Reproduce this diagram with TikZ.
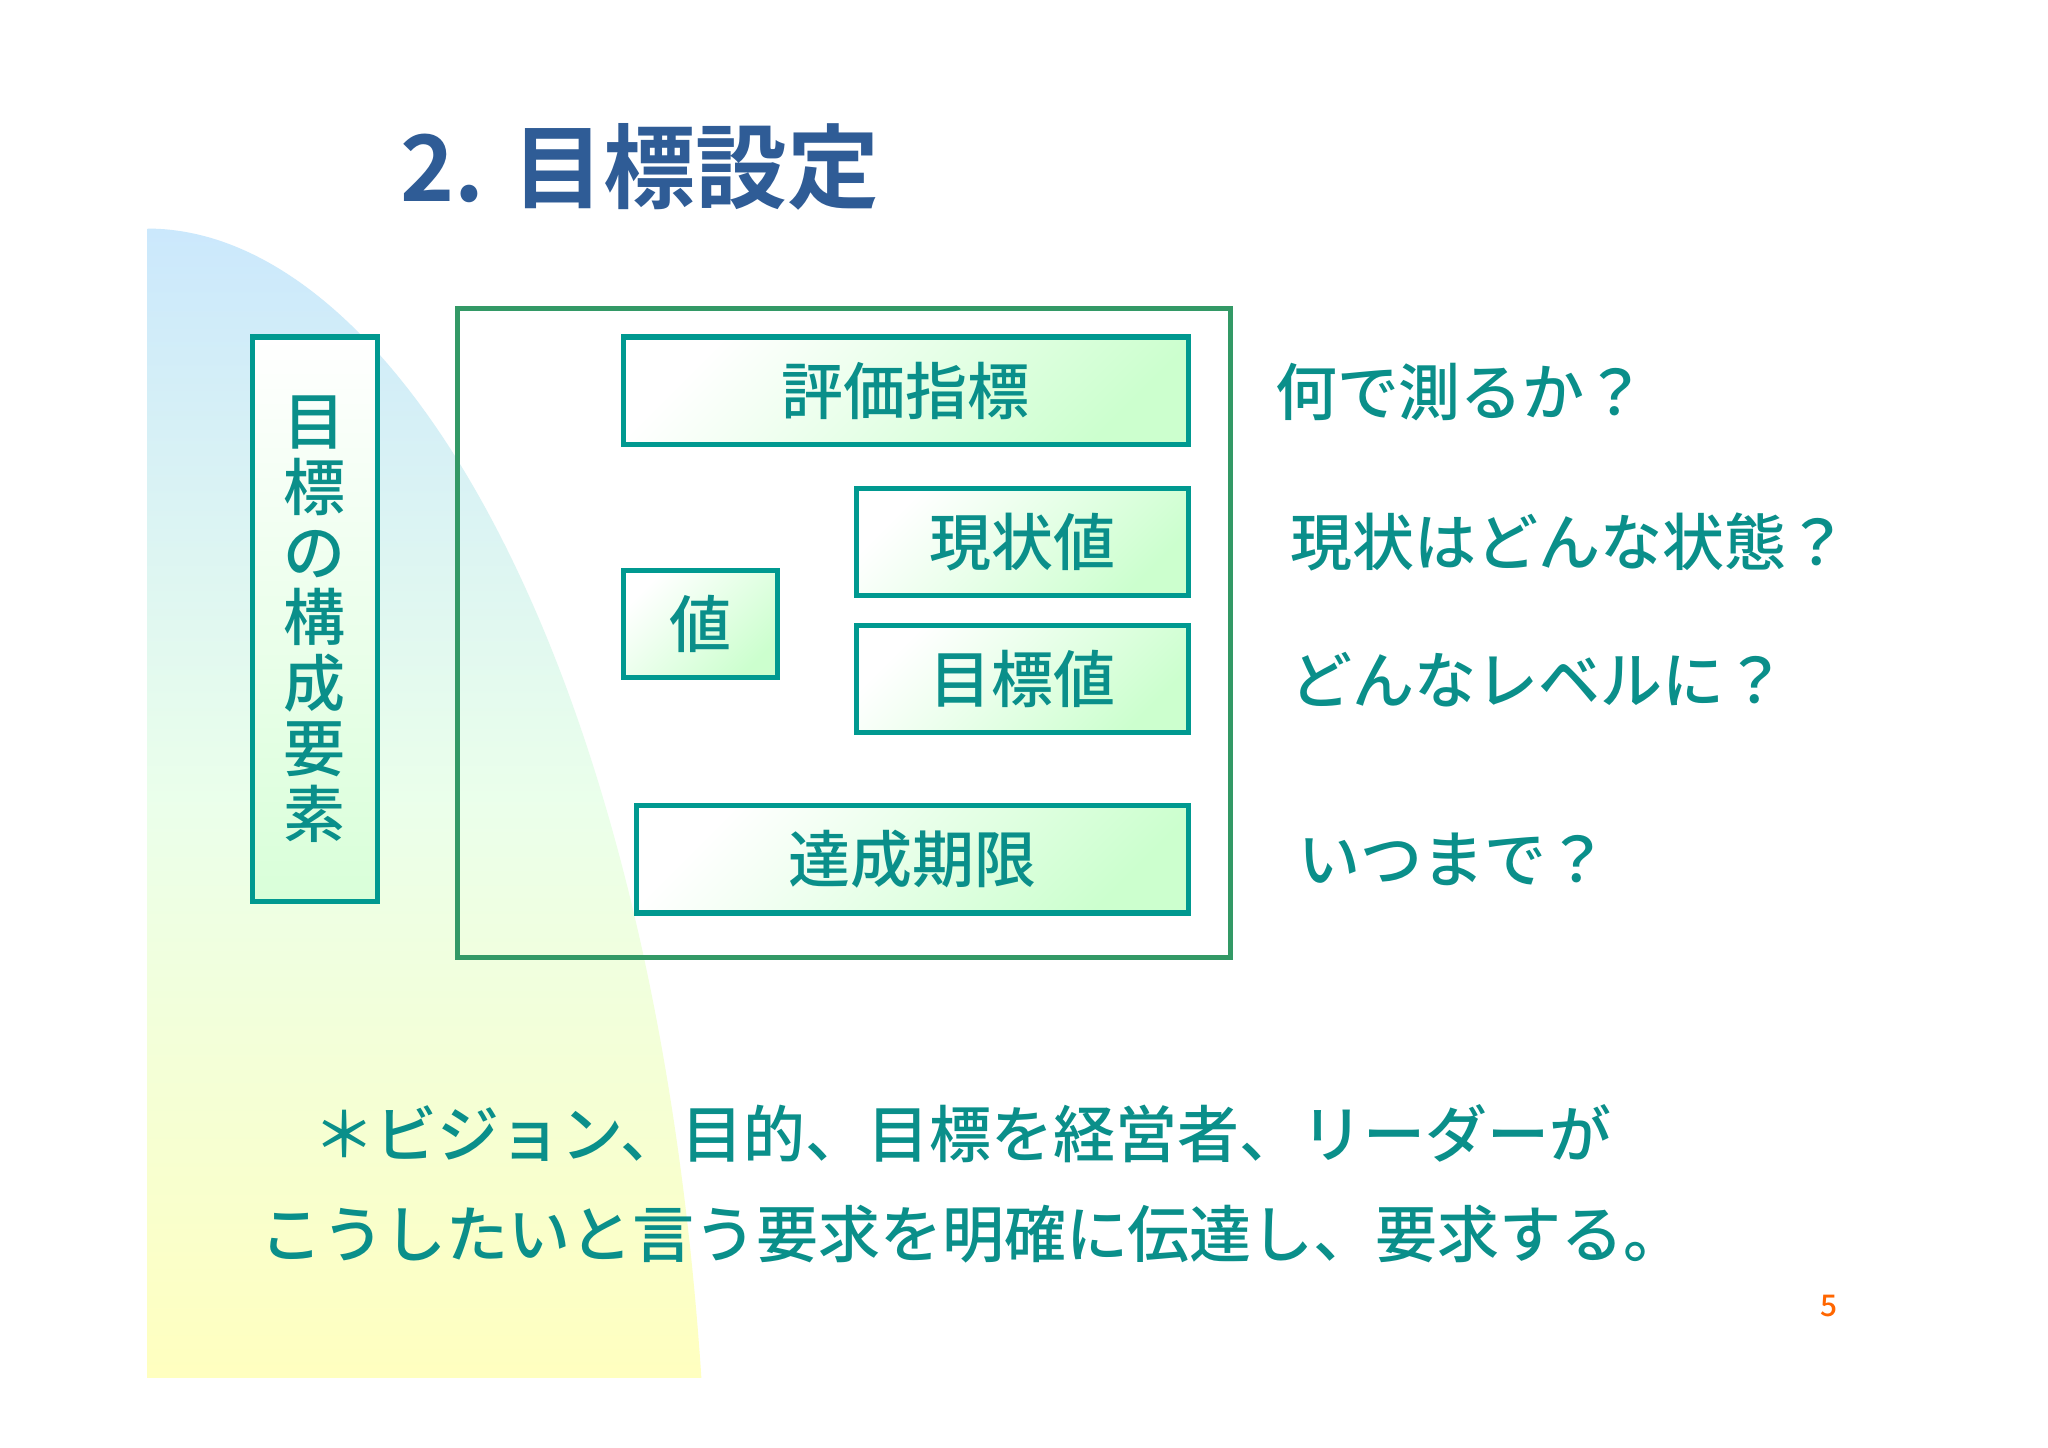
\documentclass[tikz,border=0pt]{standalone}
\usepackage{fontspec}
\setmainfont{Noto Sans CJK JP Medium}
\newfontfamily\ttlfont{Noto Sans CJK JP Bold}
\definecolor{teal1}{HTML}{009990}
\definecolor{tealtx}{HTML}{0A8F8A}
\definecolor{frame}{HTML}{339966}
\definecolor{ttl}{HTML}{2F5C96}
\definecolor{skyb}{HTML}{CBE8FC}
\tikzset{
  el/.style={draw=teal1,line width=2.2pt,left color=white,right color=green!10!cyan!5!green!20,shading angle=45},
  lbl/.style={text=tealtx,font=\fontsize{27}{30}\selectfont},
  rt/.style={text=tealtx,font=\fontsize{27}{30}\selectfont,anchor=west},
}
\begin{document}
\begin{tikzpicture}[x=0.02cm,y=-0.02cm]
\useasboundingbox (0,0) rectangle (1568,1108);
\fill[white] (0,0) rectangle (1568,1108);
\shade[top color=skyb,bottom color=yellow!25,middle color=green!8]
  (113,175) .. controls (300,175) and (500,500) .. (537,1055) -- (113,1055) -- cycle;
\node[text=ttl,font=\ttlfont\fontsize{40}{44}\selectfont] (title) at (490,128) {2.\hspace{0.3em}目標設定};
\node[el,minimum width=96*0.02cm,minimum height=432*0.02cm,top color=white,bottom color=green!15,shading angle=0] (v) at (241,474) {};
\node[lbl,align=center,font=\fontsize{27}{28.5}\selectfont] (vt) at (241,474) {目\\標\\の\\構\\成\\要\\素};
\draw[frame,line width=2.2pt] (350,236) rectangle (942,733);
\node[el,minimum width=433*0.02cm,minimum height=82*0.02cm,lbl] (a) at (693.5,299) {評価指標};
\node[el,minimum width=254*0.02cm,minimum height=82*0.02cm,lbl] (b) at (783,415) {現状値};
\node[el,minimum width=118*0.02cm,minimum height=82*0.02cm,lbl] (c) at (536,478) {値};
\node[el,minimum width=254*0.02cm,minimum height=82*0.02cm,lbl] (d) at (783,520) {目標値};
\node[el,minimum width=423*0.02cm,minimum height=82*0.02cm,lbl] (e) at (698.5,658) {達成期限};
\node[rt] (r1) at (970,300) {何で測るか？};
\node[rt] (r2) at (982,415) {現状はどんな状態？};
\node[rt] (r3) at (982,520) {どんなレベルに？};
\node[rt] (r4) at (988,658) {いつまで？};
\node[lbl] (l1) at (737,868) {＊ビジョン、目的、目標を経営者、リーダーが};
\node[lbl] (l2) at (745,945) {こうしたいと言う要求を明確に伝達し、要求する。};
\node[text=orange!80!red,font=\fontsize{13}{15}\selectfont] (pg) at (1400,1000) {5};
\end{tikzpicture}
\end{document}
